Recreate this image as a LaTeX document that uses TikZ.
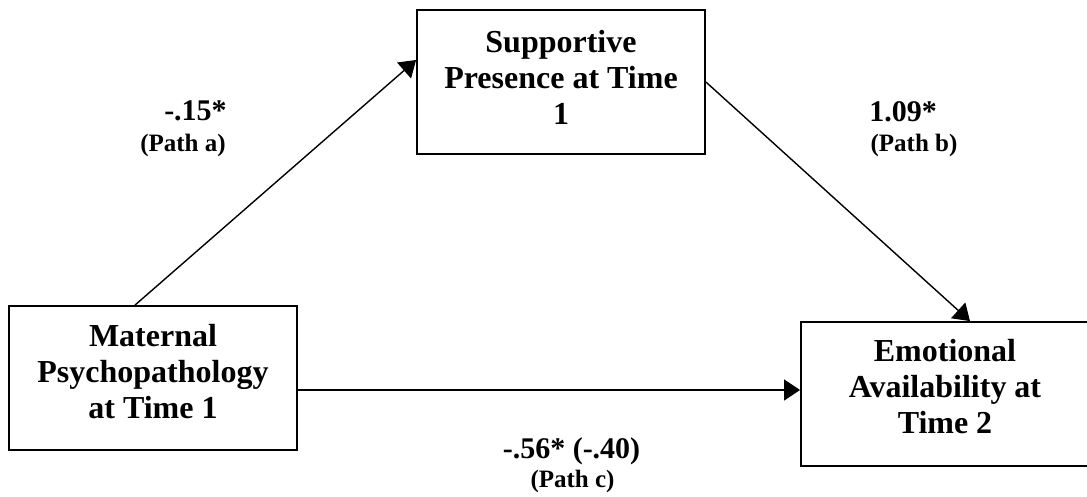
\documentclass[tikz,border=0pt]{standalone}
\usepackage{fontspec}
\setmainfont{Liberation Serif}
\usetikzlibrary{arrows.meta}
\tikzset{
  boxnode/.style={draw=black, line width=1.8pt, minimum width=288pt, minimum height=144pt, inner sep=0pt, fill=white},
  boxtext/.style={align=center, inner sep=0pt, font=\fontsize{32}{36}\selectfont\bfseries},
  pathline/.style={line width=1.4pt, -{Triangle[length=16pt,width=21pt]}},
  coef/.style={inner sep=0pt, anchor=base, font=\fontsize{30}{34}\selectfont\bfseries},
  pathname/.style={inner sep=0pt, anchor=base, font=\fontsize{25}{28}\selectfont\bfseries}
}
\begin{document}
\begin{tikzpicture}[x=1pt, y=-1pt]
\useasboundingbox (0,0) rectangle (1087,497);
% boxes
\node[boxnode] (tb) at (561,82) {};
\node[boxnode] (lb) at (153,378) {};
\node[boxnode, minimum width=296pt] (rb) at (949,394) {};
% box texts
\node[boxtext] (tbt) at (561,77) {Supportive\\Presence at Time\\1};
\node[boxtext] (lbt) at (153,371.5) {Maternal\\Psychopathology\\at Time 1};
\node[boxtext] (rbt) at (945,386.5) {Emotional\\Availability at\\Time 2};
% paths
\draw[pathline] ([xshift=-18pt]lb.north) -- ([yshift=22pt]tb.west);
\draw[pathline] (tb.east) -- ([xshift=21pt]rb.north);
\draw[pathline] ([yshift=-12pt]lb.east) -- ([yshift=4pt]rb.west);
% labels
\node[coef] (ca) at (195.5,121) {-.15*};
\node[pathname] (pa) at (183,152) {(Path a)};
\node[coef] (cb) at (903,122) {1.09*};
\node[pathname] (pb) at (914,152) {(Path b)};
\node[coef] (cc) at (571.5,458) {-.56* (-.40)};
\node[pathname] (pc) at (572.5,487) {(Path c)};
\end{tikzpicture}
\end{document}
